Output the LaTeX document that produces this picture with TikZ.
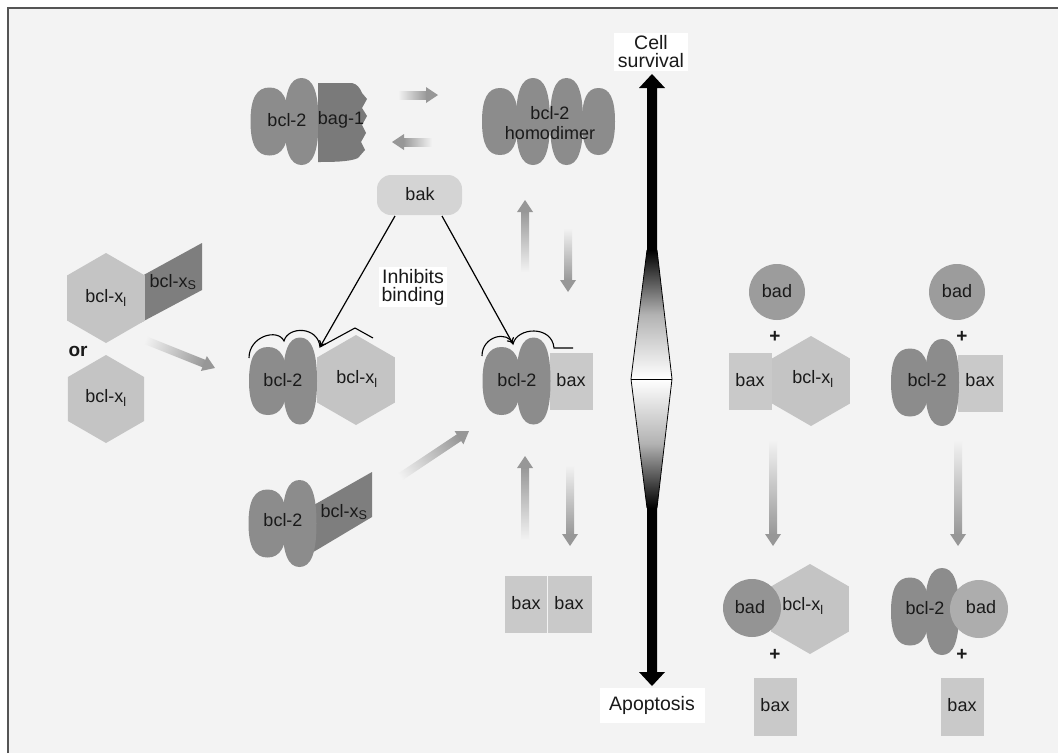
\documentclass[tikz,border=0pt]{standalone}
\usepackage{fontspec}
\setmainfont{Liberation Sans}
\usetikzlibrary{arrows.meta}
\definecolor{bg}{HTML}{F3F3F3}
\definecolor{bclc}{HTML}{8C8C8C}
\definecolor{bagc}{HTML}{7A7A7A}
\definecolor{xsc}{HTML}{7E7E7E}
\definecolor{xlc}{HTML}{C4C4C4}
\definecolor{baxc}{HTML}{C9C9C9}
\definecolor{bakc}{HTML}{D4D4D4}
\definecolor{badc}{HTML}{9C9C9C}
\definecolor{badl}{HTML}{ADADAD}
\definecolor{arr}{HTML}{979797}
\definecolor{framec}{HTML}{555555}
\definecolor{txt}{HTML}{1A1A1A}
% lobe (squarish ellipse): centre x, centre y, half width, half height
\newcommand\lobe[4]{%
  \fill[bclc] (#1+#3,#2) .. controls (#1+#3,#2-0.68*#4) and (#1+0.68*#3,#2-#4) .. (#1,#2-#4)
    .. controls (#1-0.68*#3,#2-#4) and (#1-#3,#2-0.68*#4) .. (#1-#3,#2)
    .. controls (#1-#3,#2+0.68*#4) and (#1-0.68*#3,#2+#4) .. (#1,#2+#4)
    .. controls (#1+0.68*#3,#2+#4) and (#1+#3,#2+0.68*#4) .. (#1+#3,#2) -- cycle;}
\newcommand\bcltwo[2]{%
  \lobe{#1-32}{#2}{19}{34}
  \lobe{#1}{#2}{17}{43.5}}
\newcommand\hexa[3]{%
  \fill[xlc] (#1,#2) +(90:#3) -- +(150:#3) -- +(210:#3) -- +(270:#3) -- +(330:#3) -- +(30:#3) -- cycle;}
\newcommand\garrow[4]{%
  \pgfmathsetmacro\gdx{#3-#1}%
  \pgfmathsetmacro\gdy{#4-#2}%
  \pgfmathsetmacro\glen{veclen(\gdx,\gdy)}%
  \pgfmathsetmacro\gang{atan2(-\gdy,\gdx)}%
  \begin{scope}[transform canvas={shift={(#1,#2)},rotate=\gang}]
    \shade[left color=bg, right color=arr] (0,-4) rectangle (\glen-11,4);
    \fill[arr] (\glen-12,-8) -- (\glen,0) -- (\glen-12,8) -- cycle;
  \end{scope}}
\begin{document}
\begin{tikzpicture}[x=1pt,y=-1pt,
  mol/.style={font=\fontsize{18}{19.5}\selectfont, text=txt, inner sep=0pt, align=center},
  lab/.style={font=\fontsize{19.5}{18}\selectfont, text=txt, fill=white, align=center},
  plus/.style={font=\fontsize{19}{19}\selectfont\bfseries, text=txt, inner sep=0pt},
  link/.style={line width=1.2pt, black}]
\useasboundingbox (0,0) rectangle (1058,753);
\fill[white] (0,0) rectangle (1058,753);
\fill[bg] (8,8) rectangle (1058,753);
\draw[framec, line width=1.5pt] (8,753) -- (8,8) -- (1058,8);

% ---- top-left bcl-2 / bag-1
\bcltwo{301.5}{121.5}
\fill[bagc] (318,83) -- (352,83) .. controls (357,84) and (360,88) .. (362,93) -- (367,99) -- (362,108) -- (367,116) -- (362,125) -- (366,133) -- (361,142) -- (365,150) -- (358,158) .. controls (350,162) and (330,162) .. (318,162) -- cycle;
\node[mol] (tbcl) at (287,120) {bcl-2};
\node[mol] (tbag) at (341,120) {bag-1};

% ---- homodimer
\lobe{500}{121.5}{18}{33.5}
\lobe{598.5}{121.5}{16.5}{33.5}
\lobe{533}{121.5}{17}{43.5}
\lobe{566.5}{121.5}{16.5}{43.5}
\node[mol] (homo) at (550,123) {bcl-2\\homodimer};

\garrow{398}{95}{438}{95}
\garrow{432}{142}{392}{142}

% ---- bak
\node[fill=bakc, rounded corners=14pt, minimum width=85pt, minimum height=40pt, inner sep=0pt] (bak) at (419.5,195) {};
\node[mol] (baktxt) at (420,194) {bak};
\node[lab, inner xsep=3pt, inner ysep=2pt] (inhib) at (413,287) {Inhibits\\binding};

% ---- left bcl-xl / bcl-xs
\fill[xsc] (140,277) -- (202,243) -- (202,290) -- (140,323) -- cycle;
\hexa{106}{298}{45}
\node[mol] (lxl1) at (106,298) {bcl-x\textsubscript{l}};
\node[mol] (lxs) at (173,282) {bcl-x\textsubscript{S}};
\node[font=\fontsize{19}{19}\selectfont\bfseries, text=txt, inner sep=0pt] (or) at (78,351) {or};
\hexa{106}{399}{44}
\node[mol] (lxl2) at (106,398) {bcl-x\textsubscript{l}};

\garrow{145}{340}{215}{368}

% ---- bcl-2 / bcl-xl
\hexa{356}{380}{45}
\bcltwo{300}{381}
\node[mol] (c1a) at (283,380) {bcl-2};
\node[mol] (c1b) at (357,379) {bcl-x\textsubscript{l}};
\coordinate (s1) at (320,347);
\draw[line width=1.1pt] (249,358) .. controls (249,336) and (278,328) .. (284,341) .. controls (288,326) and (318,326) .. (s1) -- (355,328) -- (373,338);

% ---- bcl-2 / bax
\fill[baxc] (550,353) rectangle (593,410);
\bcltwo{533.5}{381}
\node[mol] (c2a) at (517,380) {bcl-2};
\node[mol] (c2b) at (571,380) {bax};
\coordinate (s2) at (513,344);
\draw[line width=1.1pt] (482,356) .. controls (482,336) and (508,330) .. (s2) .. controls (517,327) and (552,325) .. (554,348) -- (573,348);

% bak links
\coordinate (b1) at (395,216);
\coordinate (b2) at (442,216);
\draw[link, -{To[length=6pt,width=8pt]}] (b1) -- (s1);
\draw[link, -{To[length=6pt,width=8pt]}] (b2) -- (s2);

\garrow{525}{272}{525}{200}
\garrow{568}{228}{568}{292}

% ---- bcl-2 / bcl-xs
\fill[xsc] (305,510) -- (372,472) -- (372,517) -- (305,557) -- cycle;
\bcltwo{299.5}{523.5}
\node[mol] (c3a) at (283,520) {bcl-2};
\node[mol] (c3b) at (344,512) {bcl-x\textsubscript{S}};

\garrow{400}{477}{469}{431}
\garrow{525}{540}{525}{456}
\garrow{570}{465}{570}{546}

% ---- bax bax
\fill[baxc] (505,576) rectangle (547,633);
\fill[baxc] (548,576) rectangle (592,633);
\node[mol] (bb1) at (526,603) {bax};
\node[mol] (bb2) at (569,603) {bax};

% ---- central axis
\fill[black] (652,74) -- (665,88) -- (657,88) -- (657,250) -- (647,250) -- (647,88) -- (639,88) -- cycle;
\shade[top color=black, bottom color=white, middle color=black!30] (647,250) -- (657,250) -- (672,379) -- (631,379) -- cycle;
\shade[top color=white, bottom color=black, middle color=black!30] (631,379) -- (672,379) -- (657,508) -- (647,508) -- cycle;
\fill[black] (647,508) -- (657,508) -- (657,672) -- (665,672) -- (652,686) -- (639,672) -- (647,672) -- cycle;
\draw[line width=0.8pt] (647,250) -- (631,379) -- (647,508);
\draw[line width=0.8pt] (657,250) -- (672,379) -- (657,508);
\draw[line width=0.8pt] (631,379) -- (672,379);
\node[lab, inner xsep=3.5pt, inner ysep=2.5pt] (surv) at (651,52) {Cell\\survival};
\node[lab, minimum width=105pt, minimum height=35pt, inner sep=0pt] (apop) at (652,705.5) {Apoptosis};

% ---- right col 1
\fill[badc] (777,292) circle [radius=28];
\node[mol] (r1bad) at (777,291) {bad};
\node[plus] (r1p) at (775,337) {+};
\fill[baxc] (729,353) rectangle (772,410);
\hexa{811}{381}{45}
\node[mol] (r1bax) at (750,380) {bax};
\node[mol] (r1xl) at (813,379) {bcl-x\textsubscript{l}};

% ---- right col 2
\fill[badc] (957,292) circle [radius=28];
\node[mol] (r2bad) at (957,291) {bad};
\node[plus] (r2p) at (962,337) {+};
\fill[baxc] (958,355) rectangle (1003,412);
\bcltwo{942}{382.5}
\node[mol] (r2bcl) at (927,380) {bcl-2};
\node[mol] (r2bax) at (980,380) {bax};

\garrow{773}{440}{773}{546}
\garrow{958}{440}{958}{546}

% ---- bottom col 1
\hexa{810}{609}{45}
\fill[badc!95!black] (752,608) circle [radius=29];
\node[mol] (b1bad) at (750,607) {bad};
\node[mol] (b1xl) at (803,606) {bcl-x\textsubscript{l}};
\node[plus] (b1p) at (775,655) {+};
\fill[baxc] (754,678) rectangle (797,736);
\node[mol] (b1bax) at (775,705) {bax};

% ---- bottom col 2
\bcltwo{942}{611.5}
\fill[badl] (979,609) circle [radius=29];
\node[mol] (b2bcl) at (925,608) {bcl-2};
\node[mol] (b2bad) at (981,607) {bad};
\node[plus] (b2p) at (962,655) {+};
\fill[baxc] (941,678) rectangle (984,736);
\node[mol] (b2bax) at (962,705) {bax};
\end{tikzpicture}
\end{document}
